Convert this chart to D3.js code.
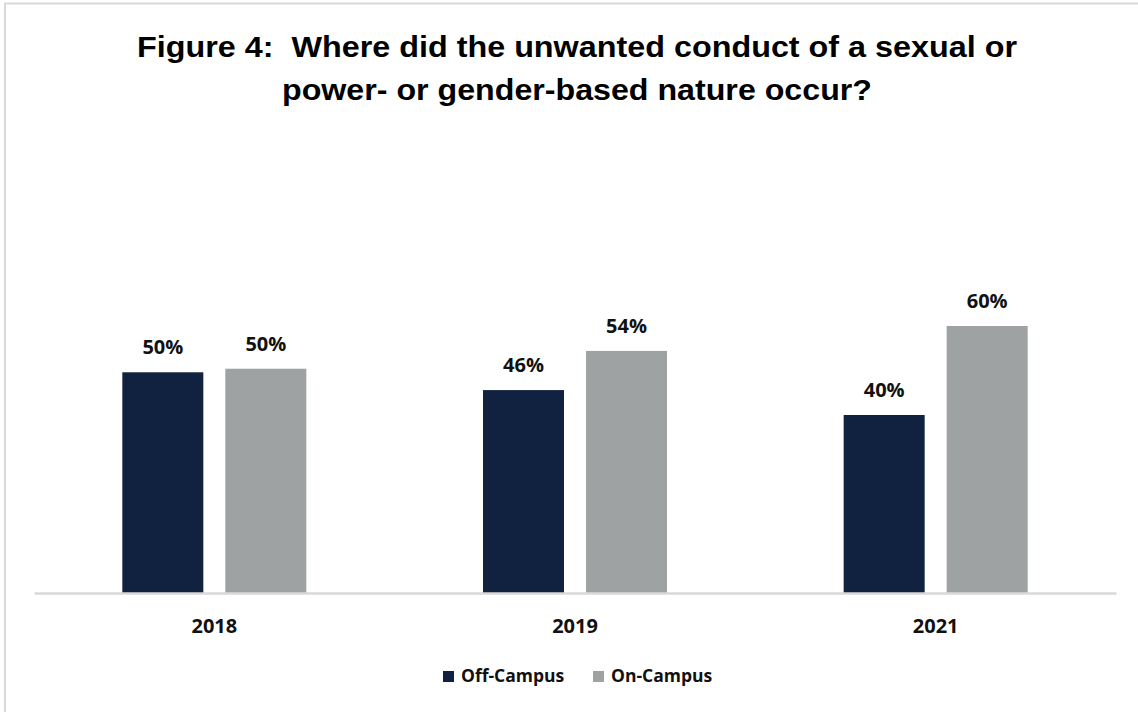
<!DOCTYPE html>
<html>
<head>
<meta charset="utf-8">
<script src="https://cdn.jsdelivr.net/npm/d3@7"></script>
<style>
  html, body { margin: 0; padding: 0; background: #fff; }
  svg { display: block; }
  .title { white-space: pre; }
</style>
</head>
<body>
<svg id="chart" width="1138" height="712"></svg>
<script>
const categories = ["2018", "2019", "2021"];
const seriesNames = ["Off-Campus", "On-Campus"];
const offCampus = [49.6, 45.6, 40.0];
const onCampus = [50.4, 54.4, 60.0];
const offLabels = ["50%", "46%", "40%"];
const onLabels = ["50%", "54%", "60%"];
const titleLines = ["Figure 4:  Where did the unwanted conduct of a sexual or", "power- or gender-based nature occur?"];

const colors = { "Off-Campus": "#10223f", "On-Campus": "#9ea2a2" };

const svg = d3.select("#chart");
const W = 1138, H = 712;

// outer border (top and left visible)
svg.append("line").attr("x1", 4).attr("x2", W).attr("y1", 3.5).attr("y2", 3.5)
  .attr("stroke", "#d9d9d9").attr("stroke-width", 2);
svg.append("line").attr("x1", 5).attr("x2", 5).attr("y1", 3).attr("y2", H)
  .attr("stroke", "#d9d9d9").attr("stroke-width", 2);

// title
const titleFont = "'Liberation Sans', Arial, sans-serif";
const tl = [{ t: titleLines[0], y: 57, len: 880 }, { t: titleLines[1], y: 100, len: 590 }];
svg.selectAll("text.title").data(tl).enter().append("text")
  .attr("class", "title")
  .attr("x", 577).attr("y", d => d.y)
  .attr("text-anchor", "middle")
  .attr("font-family", titleFont)
  .attr("font-weight", "bold")
  .attr("font-size", 29)
  .attr("fill", "#000")
  .attr("textLength", d => d.len)
  .attr("lengthAdjust", "spacingAndGlyphs")
  .text(d => d.t);

// scales
const x0 = d3.scaleBand().domain(categories).range([34, 1116]).paddingInner(0).paddingOuter(0);
const x1 = d3.scaleBand().domain(seriesNames).range([0, 184]).paddingInner(0.2136);
const y = d3.scaleLinear().domain([0, 60]).range([593, 326]);

const data = categories.map((c, i) => ({
  cat: c,
  vals: [
    { s: "Off-Campus", v: offCampus[i], lab: offLabels[i] },
    { s: "On-Campus", v: onCampus[i], lab: onLabels[i] }
  ]
}));

const groups = svg.selectAll("g.grp").data(data).enter().append("g")
  .attr("class", "grp")
  .attr("transform", d => `translate(${x0(d.cat) + x0.bandwidth() / 2 - 92},0)`);

groups.selectAll("rect").data(d => d.vals).enter().append("rect")
  .attr("x", d => x1(d.s))
  .attr("width", x1.bandwidth())
  .attr("y", d => y(d.v))
  .attr("height", d => y(0) - y(d.v))
  .attr("fill", d => colors[d.s]);

const labelFont = "'Open Sans', 'DejaVu Sans', sans-serif";
groups.selectAll("text.lab").data(d => d.vals).enter().append("text")
  .attr("class", "lab")
  .attr("x", d => x1(d.s) + x1.bandwidth() / 2)
  .attr("y", d => y(d.v) - 18)
  .attr("text-anchor", "middle")
  .attr("font-family", labelFont)
  .attr("font-weight", "bold")
  .attr("font-size", 20)
  .attr("fill", "#111")
  .text(d => d.lab);

// x axis
const xAxis = svg.append("g").attr("transform", `translate(0,${y(0)})`)
  .call(d3.axisBottom(x0).tickSize(0).tickPadding(26));
xAxis.select(".domain").attr("stroke", "#d9d9d9").attr("stroke-width", 2.5);
xAxis.selectAll("text")
  .attr("font-family", labelFont)
  .attr("font-weight", "bold")
  .attr("font-size", 20)
  .attr("fill", "#111");

// legend
const legendItems = [
  { s: "Off-Campus", x: 443 },
  { s: "On-Campus", x: 593 }
];
const lg = svg.selectAll("g.leg").data(legendItems).enter().append("g")
  .attr("class", "leg")
  .attr("transform", d => `translate(${d.x},671)`);
lg.append("rect").attr("width", 11).attr("height", 11).attr("fill", d => colors[d.s]);
lg.append("text")
  .attr("x", 18).attr("y", 10.5)
  .attr("font-family", labelFont)
  .attr("font-weight", "bold")
  .attr("font-size", 17.5)
  .attr("fill", "#111")
  .text(d => d.s);
</script>
</body>
</html>
